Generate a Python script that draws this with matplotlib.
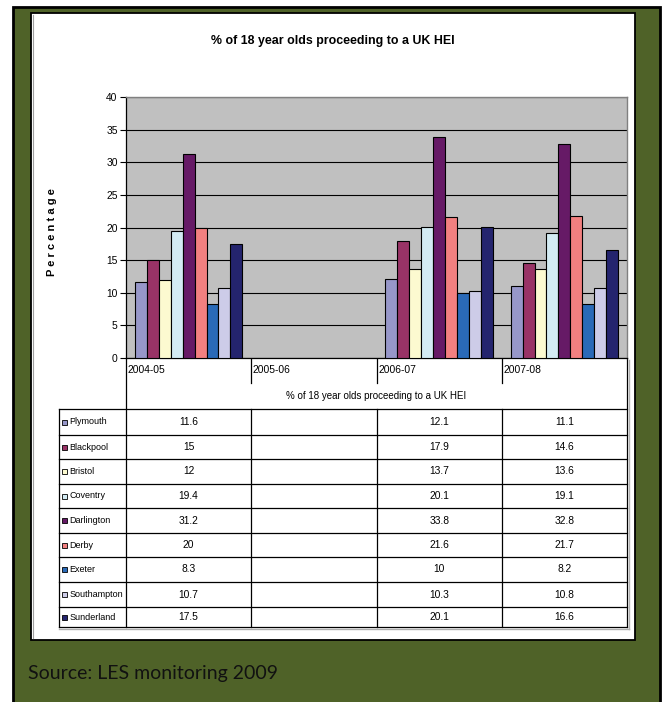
import numpy as np
import matplotlib
matplotlib.use("Agg")
import matplotlib.pyplot as plt
from matplotlib import transforms
from matplotlib.patches import Rectangle

# ---- data ----
years = ["2004-05", "2005-06", "2006-07", "2007-08"]
areas = ["Plymouth", "Blackpool", "Bristol", "Coventry", "Darlington",
         "Derby", "Exeter", "Southampton", "Sunderland"]
plymouth = [11.6, None, 12.1, 11.1]
blackpool = [15, None, 17.9, 14.6]
bristol = [12, None, 13.7, 13.6]
coventry = [19.4, None, 20.1, 19.1]
darlington = [31.2, None, 33.8, 32.8]
derby = [20, None, 21.6, 21.7]
exeter = [8.3, None, 10, 8.2]
southampton = [10.7, None, 10.3, 10.8]
sunderland = [17.5, None, 20.1, 16.6]
series = [plymouth, blackpool, bristol, coventry, darlington,
          derby, exeter, southampton, sunderland]
colors = ["#9797c9", "#993366", "#fcfad0", "#d3ebf3", "#661a66",
          "#f28080", "#2a6ab8", "#cdcce8", "#24246e"]
yticks = [0, 5, 10, 15, 20, 25, 30, 35, 40]
title = "% of 18 year olds proceeding to a UK HEI"
ylabel = "P e r c e n t a g e"
source = "Source: LES monitoring 2009"

plt.rcParams["font.family"] = ["Liberation Sans", "DejaVu Sans"]
name_sz = 6.5   # row labels in the table
val_sz = 7.4    # table values, ticks and category labels
tsz = 8.9       # chart title

W, H = 663, 702
fig = plt.figure(figsize=(W / 100, H / 100), dpi=100)
fig.patch.set_facecolor("white")

# full-figure pixel canvas for the frame, panel and table rules
bg = fig.add_axes([0, 0, 1, 1], zorder=0)
bg.set_xlim(0, W)
bg.set_ylim(H, 0)
bg.axis("off")

# green slide frame
bg.add_patch(Rectangle((13, 6.5), 647, 720, facecolor="#4f6228",
                       edgecolor="black", lw=2.0, clip_on=False))

# white chart panel
bg.add_patch(Rectangle((31, 13), 604, 627, facecolor="white",
                       edgecolor="black", lw=1.3))
bg.plot([33, 33], [15, 638], color="#a0a0a0", lw=0.8)

bg.text(333, 41, title, ha="center", va="center", fontsize=tsz,
        fontweight="bold", color="black")
bg.text(28, 674, source, ha="left", va="center", fontsize=14,
        family=["Lato", "DejaVu Sans"], color="#111111")

# ---- bar plot area ----
pl, pr, pt, pb = 126, 627, 97, 358
ax = fig.add_axes([pl / W, 1 - pb / H, (pr - pl) / W, (pb - pt) / H], zorder=2)
ax.set_facecolor("#c0c0c0")
n = len(series)
width = 1 / (n + 1.5)
x = np.arange(len(years))
for i, (vals, col) in enumerate(zip(series, colors)):
    v = np.array([np.nan if a is None else a for a in vals], dtype=float)
    ax.bar(x + (i - (n - 1) / 2) * width, v, width=width, color=col,
           edgecolor="black", linewidth=0.8, zorder=3)

ax.set_xlim(-0.5, len(years) - 0.5)
ax.set_ylim(0, 40)
ax.set_yticks(yticks)
ax.set_yticklabels([str(t) for t in yticks], fontsize=val_sz)
ax.tick_params(axis="y", direction="out", length=4, width=0.8, pad=2)
ax.set_xticks([])
ax.yaxis.grid(True, color="black", lw=0.8)
ax.set_axisbelow(True)
for side in ["top", "right"]:
    ax.spines[side].set_color("#808080")
    ax.spines[side].set_linewidth(1.0)
ax.spines["left"].set_linewidth(0.9)
ax.spines["bottom"].set_linewidth(0.9)

bg.text(52, 232, ylabel, rotation=90, ha="center", va="center",
        fontsize=8, fontweight="bold")

# ---- data table below the axis ----
tr = transforms.blended_transform_factory(ax.transData, bg.transData)
bounds = np.arange(len(years) + 1) - 0.5
lc = "black"
for b in bounds:
    bottom = 627 if b in (bounds[0], bounds[-1]) else 383
    bg.plot([b, b], [pb, bottom], color=lc, lw=0.9, transform=tr, clip_on=False)
for j, yr in enumerate(years):
    bg.text(bounds[j] + 0.012, 370, yr, ha="left", va="center",
            fontsize=val_sz, transform=tr)
bg.text(np.mean(x), 396, title, ha="center", va="center",
        fontsize=7.0, transform=tr)

row_edges = [409, 435, 459, 484, 508, 533, 557, 582, 607, 627]
tl, trx = 59, 627
for yy in row_edges:
    bg.plot([tl, trx], [yy, yy], color=lc, lw=0.9)
bg.plot([tl, tl], [row_edges[0], row_edges[-1]], color=lc, lw=0.9)
for b in bounds[1:-1]:
    bg.plot([b, b], [row_edges[0], row_edges[-1]], color=lc, lw=0.9,
            transform=tr, clip_on=False)
# light shading along the table's outer right and bottom edges
bg.plot([trx + 1.5, trx + 1.5], [360, 629], color="#b0b0b0", lw=1.0)
bg.plot([tl, trx + 1.5], [628.5, 628.5], color="#b0b0b0", lw=1.0)

for r, (name, vals, col) in enumerate(zip(areas, series, colors)):
    yc = (row_edges[r] + row_edges[r + 1]) / 2
    bg.add_patch(Rectangle((62, yc - 2.5), 5, 5, facecolor=col,
                           edgecolor="black", lw=0.6))
    bg.text(69.5, yc, name, ha="left", va="center", fontsize=name_sz)
    for j, v in enumerate(vals):
        if v is None:
            continue
        bg.text(x[j], yc, f"{v:g}", ha="center", va="center",
                fontsize=val_sz, transform=tr)

fig.savefig("out.png", dpi=100, facecolor=fig.get_facecolor())
